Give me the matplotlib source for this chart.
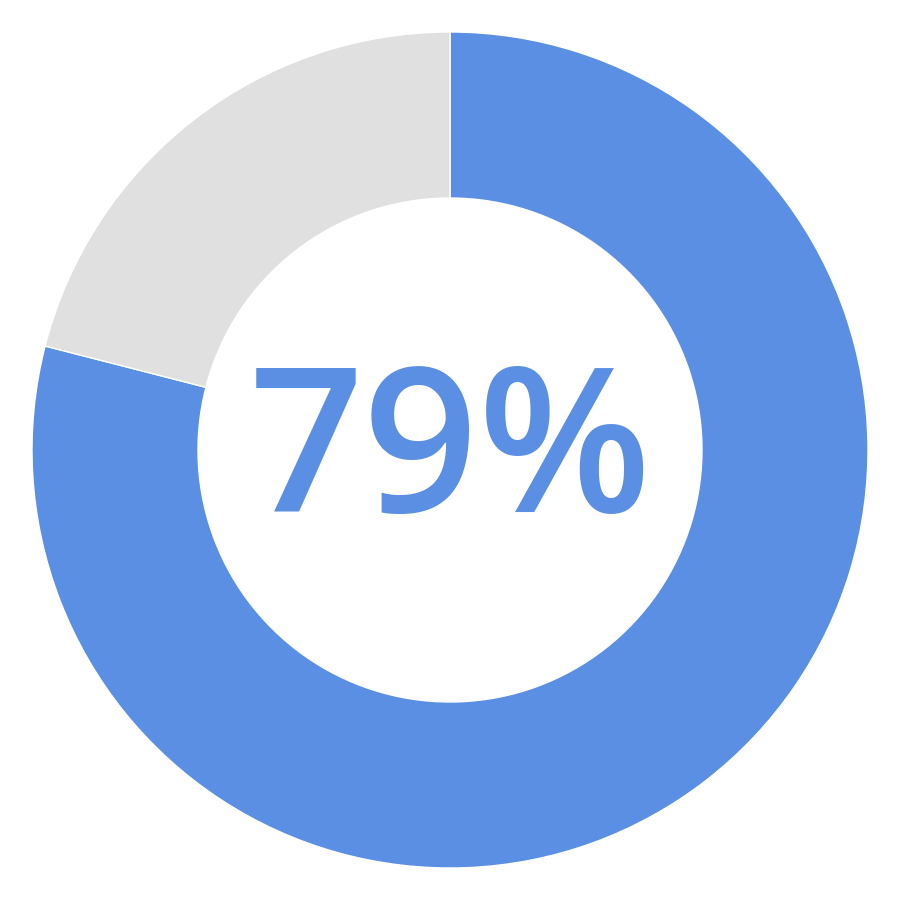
import matplotlib.pyplot as plt

# donut values (percent)
labels = ['done', 'rest']
values = [79, 21]
colors = ['#5b8fe3', '#e0e0e0']
center_label = '79%'

fig = plt.figure(figsize=(9, 9), dpi=100)
ax = fig.add_axes([0, 0, 1, 1])

# work in pixel-like units so sizes map easily
ax.pie(values, colors=colors, radius=418, startangle=90, counterclock=False,
       wedgeprops=dict(width=166, edgecolor='white', linewidth=1))

ax.text(0, -62, center_label, ha='center', va='baseline', color='#5b8fe3',
        fontsize=145, fontweight='semibold', family=['Open Sans', 'DejaVu Sans'])

ax.set_xlim(-450, 450)
ax.set_ylim(-450, 450)
ax.set_aspect('equal')
ax.axis('off')

fig.savefig('out.png', dpi=100, facecolor='white')
